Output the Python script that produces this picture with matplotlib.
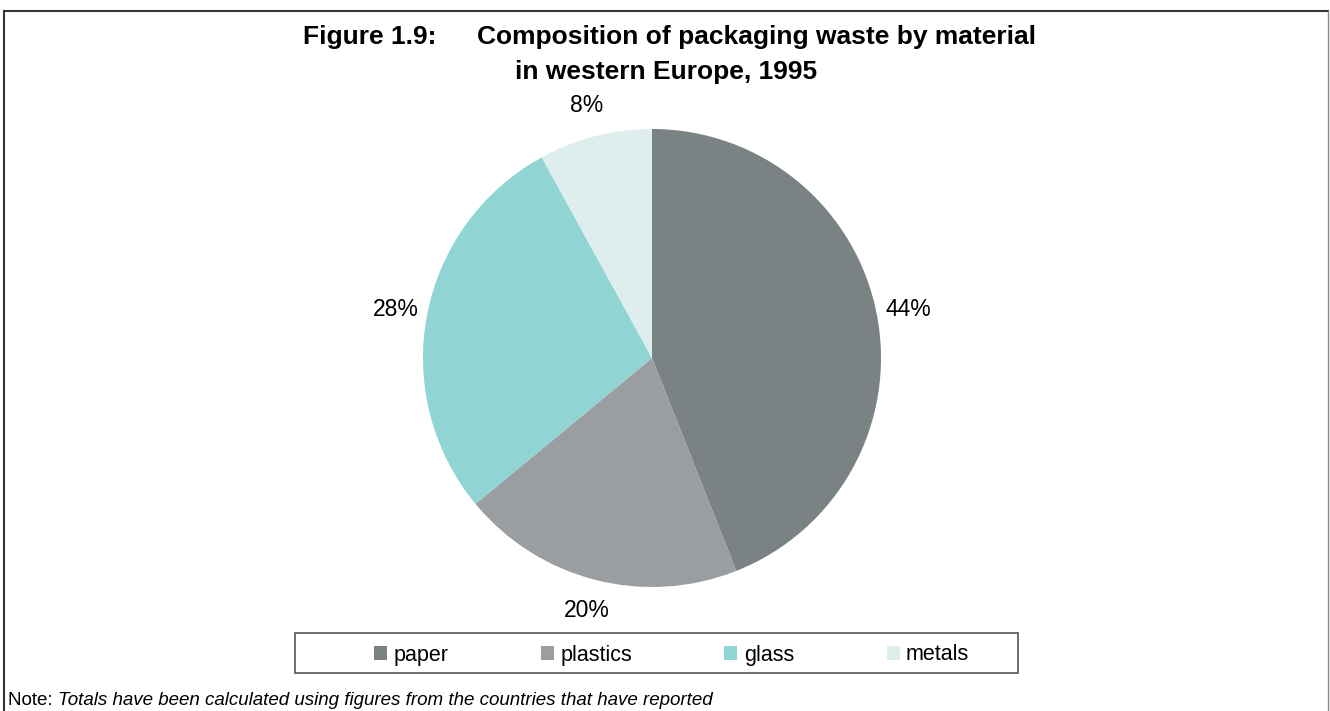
import matplotlib
matplotlib.use('Agg')
import matplotlib.pyplot as plt
from matplotlib.lines import Line2D
from matplotlib.patches import Rectangle

plt.rcParams['font.family'] = ['Liberation Sans', 'DejaVu Sans']

# data
materials = ['paper', 'plastics', 'glass', 'metals']
shares = [44, 20, 28, 8]
colours = ['#7b8283', '#9a9ea0', '#91d4d4', '#ddeeed']

title_num = 'Figure 1.9:'
title_l1 = 'Composition of packaging waste by material'
title_l2 = 'in western Europe, 1995'
note_lbl = 'Note: '
note_txt = 'Totals have been calculated using figures from the countries that have reported'

W, H = 1330, 711
fig = plt.figure(figsize=(W / 100, H / 100), dpi=100)

# pie axes, centre (652,358) px, radius 229 px
cx, cy, r = 652, 358, 229
ax = fig.add_axes([(cx - r) / W, (H - cy - r) / H, 2 * r / W, 2 * r / H])
wedges, _, pct = ax.pie(shares, colors=colours, startangle=90, counterclock=False,
                        autopct='%.0f%%', pctdistance=1.14,
                        wedgeprops=dict(linewidth=0),
                        textprops=dict(fontsize=16.5, color='black'))
ax.set_xlim(-1, 1)
ax.set_ylim(-1, 1)
ax.set_aspect('equal')

# titles
fig.text(303 / W, 1 - 37 / H, title_num, fontsize=19, fontweight='bold', ha='left', va='center')
fig.text(477 / W, 1 - 37 / H, title_l1, fontsize=19, fontweight='bold', ha='left', va='center')
fig.text(666 / W, 1 - 72 / H, title_l2, fontsize=19, fontweight='bold', ha='center', va='center')

# legend inside a separate box
fig.add_artist(Rectangle((295 / W, 1 - 673 / H), (1018 - 295) / W, 40 / H,
                         transform=fig.transFigure, fill=False, edgecolor='#555555', linewidth=1.2))
fig.legend(wedges, materials, loc='center', bbox_to_anchor=(671.5 / W, 1 - 655 / H),
           ncol=4, frameon=False, fontsize=15.5, handlelength=0.6, handleheight=0.6,
           handletextpad=0.3, columnspacing=4.3)

# note line
t = fig.text(8 / W, 1 - 709 / H, note_lbl, fontsize=13.5, ha='left', va='bottom')
ax.annotate(note_txt, xy=(1, 0), xycoords=t, fontsize=13.5, style='italic',
            ha='left', va='bottom')

# frame lines
fig.add_artist(Line2D([4 / W, 1328 / W], [1 - 11 / H, 1 - 11 / H], transform=fig.transFigure,
                      color='#333333', linewidth=1.5))
fig.add_artist(Line2D([4 / W, 4 / W], [0, 1 - 11 / H], transform=fig.transFigure,
                      color='#333333', linewidth=1.5))
fig.add_artist(Line2D([1328 / W, 1328 / W], [0, 1 - 11 / H], transform=fig.transFigure,
                      color='#888888', linewidth=1.0))

plt.savefig('out.png', dpi=100)
